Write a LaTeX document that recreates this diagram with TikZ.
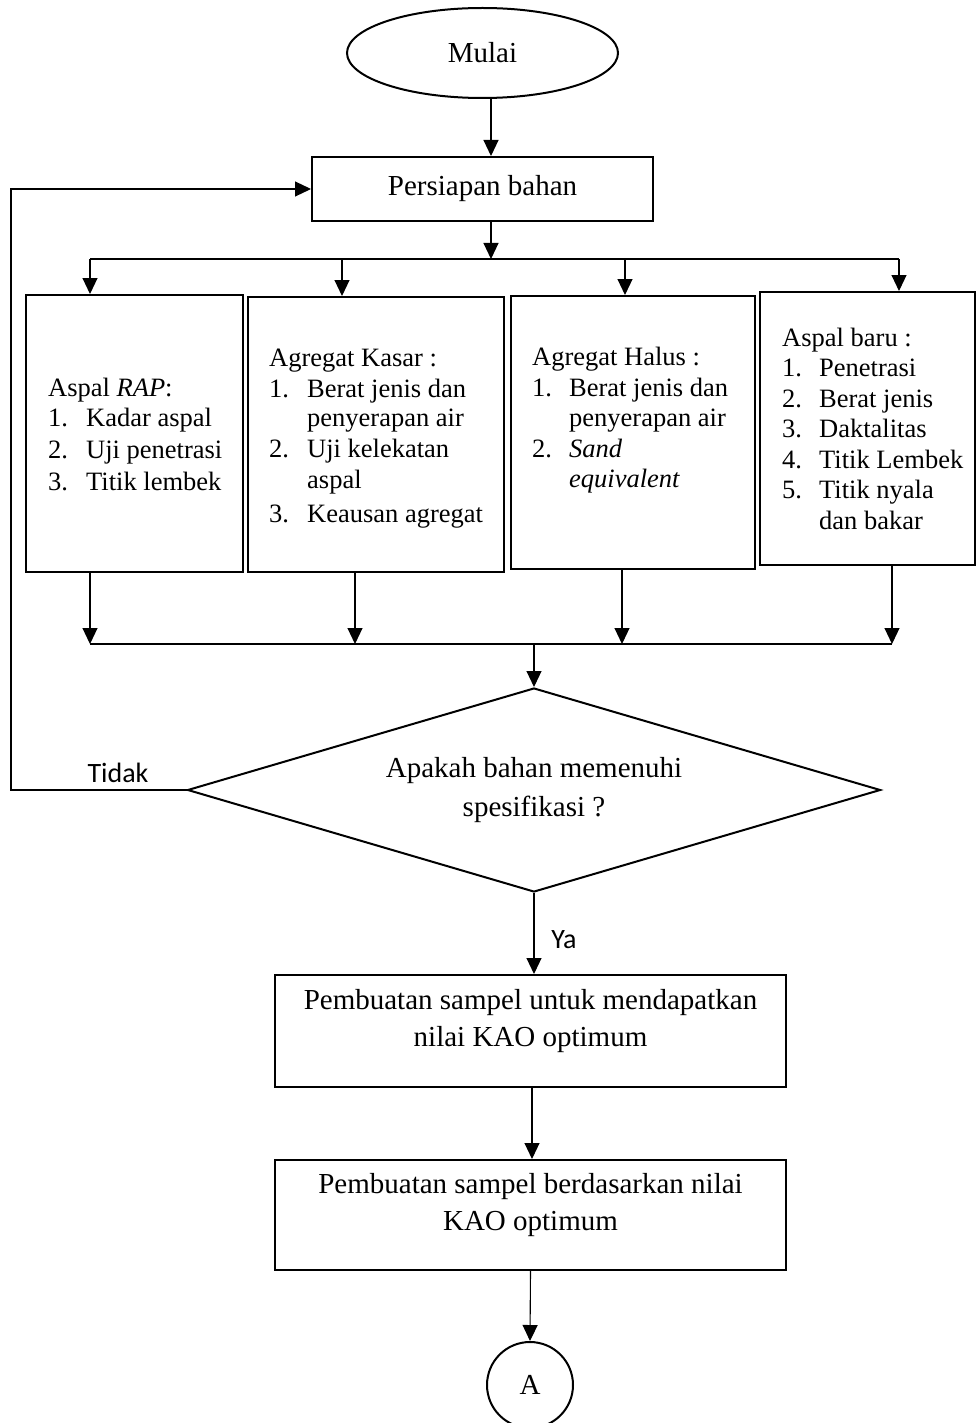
\documentclass[tikz,border=0pt]{standalone}
\usepackage{fontspec}
\setmainfont{Liberation Serif}
\newfontfamily\calibri{Carlito}
\usetikzlibrary{shapes.geometric,arrows.meta}
\tikzset{
  box/.style={draw, line width=2pt, inner sep=0pt},
  conn/.style={line width=1.1pt},
  arr/.style={conn, -{Triangle[length=16pt,width=15pt]}},
  maintxt/.style={font=\fontsize{29}{37}\selectfont},
  lst/.style={font=\fontsize{26.5}{31}\selectfont, anchor=base west, inner sep=0pt},
  lbl/.style={font=\calibri\fontsize{28}{32}\selectfont, inner sep=0pt},
}
\begin{document}
\begin{tikzpicture}[x=1pt,y=-1pt]
\useasboundingbox (0,0) rectangle (976,1423);

% start and preparation
\node[box, ellipse, minimum width=271pt, minimum height=90pt, maintxt] (mulai) at (482.5,53) {Mulai};
\node[box, minimum width=341pt, minimum height=64pt, maintxt] (pers) at (482.5,189) {Persiapan bahan};

% four material boxes
\node[box, minimum width=217pt, minimum height=277pt] (b1) at (134.5,433.5) {};
\node[box, minimum width=256pt, minimum height=275pt] (b2) at (376,434.5) {};
\node[box, minimum width=244pt, minimum height=273pt] (b3) at (633,432.5) {};
\node[box, minimum width=215pt, minimum height=273pt] (b4) at (867.5,428.5) {};

% box 1 text
\node[lst] (a0) at (48,396) {Aspal \textit{RAP}:};
\node[lst] (a1n) at (48,426) {1.};
\node[lst] (a1) at (86,426) {Kadar aspal};
\node[lst] (a2n) at (48,458) {2.};
\node[lst] (a2) at (86,458) {Uji penetrasi};
\node[lst] (a3n) at (48,490) {3.};
\node[lst] (a3) at (86,490) {Titik lembek};

% box 2 text
\node[lst] (k0) at (269,366) {Agregat Kasar :};
\node[lst] (k1n) at (269,397) {1.};
\node[lst] (k1) at (307,397) {Berat jenis dan};
\node[lst] (k1b) at (307,426) {penyerapan air};
\node[lst] (k2n) at (269,457) {2.};
\node[lst] (k2) at (307,457) {Uji kelekatan};
\node[lst] (k2b) at (307,488) {aspal};
\node[lst] (k3n) at (269,522) {3.};
\node[lst] (k3) at (307,522) {Keausan agregat};

% box 3 text
\node[lst] (h0) at (532,365) {Agregat Halus :};
\node[lst] (h1n) at (532,396) {1.};
\node[lst] (h1) at (569,396) {Berat jenis dan};
\node[lst] (h1b) at (569,426) {penyerapan air};
\node[lst] (h2n) at (532,457) {2.};
\node[lst] (h2) at (569,457) {\textit{Sand}};
\node[lst] (h2b) at (569,487) {\textit{equivalent}};

% box 4 text
\node[lst] (n0) at (782,346) {Aspal baru :};
\node[lst] (n1n) at (782,376) {1.};
\node[lst] (n1) at (819,376) {Penetrasi};
\node[lst] (n2n) at (782,407) {2.};
\node[lst] (n2) at (819,407) {Berat jenis};
\node[lst] (n3n) at (782,437) {3.};
\node[lst] (n3) at (819,437) {Daktalitas};
\node[lst] (n4n) at (782,468) {4.};
\node[lst] (n4) at (819,468) {Titik Lembek};
\node[lst] (n5n) at (782,498) {5.};
\node[lst] (n5) at (819,498) {Titik nyala};
\node[lst] (n5b) at (819,529) {dan bakar};

% decision
\node[box, diamond, shape aspect=3.4, minimum width=693pt, minimum height=204pt, align=center,
      font=\fontsize{29}{39}\selectfont] (dec) at (534,790) {Apakah bahan memenuhi\\spesifikasi ?};

% process boxes
\node[box, minimum width=511pt, minimum height=112pt] (p1) at (530.5,1031) {};
\node[align=center, maintxt, inner sep=0pt] (p1t) at (530.5,1021) {Pembuatan sampel untuk mendapatkan\\nilai KAO optimum};
\node[box, minimum width=511pt, minimum height=110pt] (p2) at (530.5,1215) {};
\node[align=center, maintxt, inner sep=0pt] (p2t) at (530.5,1205) {Pembuatan sampel berdasarkan nilai\\KAO optimum};

% connector
\node[box, circle, minimum size=86pt, maintxt] (A) at (530,1385) {A};

% labels
\node[lbl] (tidak) at (118,773) {Tidak};
\node[lbl] (ya) at (564,940) {Ya};

% coordinates
\coordinate (mx) at (491,0);
\coordinate (tb) at (491,259);
\coordinate (t1) at (90,259);
\coordinate (t2) at (342,259);
\coordinate (t3) at (625,259);
\coordinate (t4) at (899,259);
\coordinate (u1) at (90,644);
\coordinate (u2) at (355,644);
\coordinate (u3) at (622,644);
\coordinate (u4) at (892,644);
\coordinate (um) at (534,644);
\coordinate (fbx) at (11,0);

% connectors
\draw[arr] (mulai.south -| mx) -- (pers.north -| mx);
\draw[arr] (pers.south -| mx) -- (tb);
\draw[conn] (t1) -- (t4);
\draw[arr] (t1) -- (t1 |- b1.north);
\draw[arr] (t2) -- (t2 |- b2.north);
\draw[arr] (t3) -- (t3 |- b3.north);
\draw[arr] (t4) -- (t4 |- b4.north);

\draw[arr] (u1 |- b1.south) -- (u1);
\draw[arr] (u2 |- b2.south) -- (u2);
\draw[arr] (u3 |- b3.south) -- (u3);
\draw[arr] (u4 |- b4.south) -- (u4);
\draw[conn] (u1) -- (u4);
\draw[arr] (um) -- (dec.north);

\draw[arr] (dec.west) -- (dec.west -| fbx) |- (pers.west);
\draw[arr] (dec.south) -- (dec.south |- p1.north);
\draw[arr] ([xshift=1.5pt]p1.south) -- ([xshift=1.5pt]p2.north);
\draw[arr] (p2.south) -- (A.north);
\end{tikzpicture}
\end{document}
